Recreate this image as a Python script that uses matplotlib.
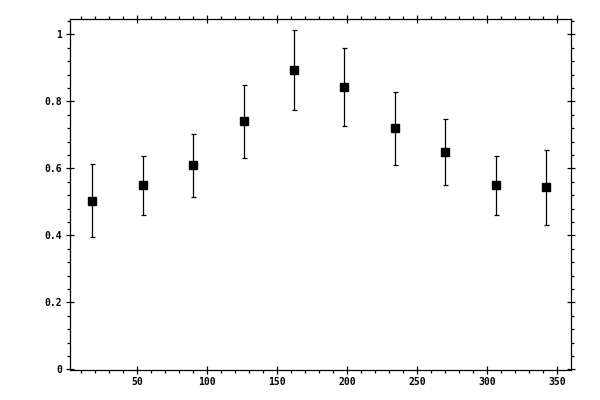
import matplotlib
matplotlib.use("Agg")
import matplotlib.pyplot as plt
from matplotlib.ticker import MultipleLocator, FuncFormatter

x_vals = [18, 54, 90, 126, 162, 198, 234, 270, 306, 342]
y_vals = [0.504, 0.549, 0.609, 0.740, 0.893, 0.842, 0.719, 0.648, 0.549, 0.543]
y_err = [0.108, 0.088, 0.095, 0.110, 0.120, 0.117, 0.109, 0.098, 0.088, 0.112]

fig = plt.figure(figsize=(6, 4), dpi=100)
ax = fig.add_axes([0.1162, 0.075, 0.835, 0.8768])

ax.errorbar(x_vals, y_vals, yerr=y_err, fmt='s', color='black', ms=5.2,
            ecolor='black', elinewidth=0.9, capsize=1.8, capthick=0.9)

ax.set_xlim(1.8, 359.6)
ax.set_ylim(-0.002, 1.045)

ax.xaxis.set_major_locator(MultipleLocator(50))
ax.xaxis.set_minor_locator(MultipleLocator(10))
ax.yaxis.set_major_locator(MultipleLocator(0.2))
ax.yaxis.set_minor_locator(MultipleLocator(0.04))
fmt = FuncFormatter(lambda v, p: ('%g' % round(v, 6)))
ax.xaxis.set_major_formatter(fmt)
ax.yaxis.set_major_formatter(fmt)

ax.tick_params(which='major', direction='inout', length=5.4, width=0.9,
               top=True, right=True, labeltop=False, labelright=False,
               labelsize=7, pad=2.5)
ax.tick_params(which='minor', direction='out', length=2.5, width=0.9,
               top=True, right=True)
for lab in ax.get_xticklabels() + ax.get_yticklabels():
    lab.set_family('DejaVu Sans Mono')
    lab.set_fontweight('bold')
for s in ax.spines.values():
    s.set_linewidth(0.9)

fig.savefig('out.png', dpi=100)
